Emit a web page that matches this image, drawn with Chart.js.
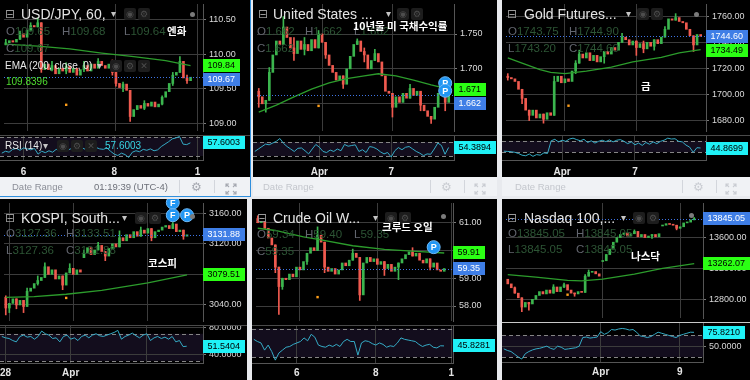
<!DOCTYPE html>
<html><head><meta charset="utf-8"><title>Six charts</title>
<script src="https://cdn.jsdelivr.net/npm/chart.js@4.4.1/dist/chart.umd.min.js"></script>
<style>
html,body{margin:0;padding:0;background:#e8eaee;}
#root{position:relative;width:750px;height:380px;overflow:hidden;background:#e8eaee;}
.panel{position:absolute;background:#000;overflow:hidden;}
.panel canvas{position:absolute;left:0;display:block;}
.t{position:absolute;white-space:nowrap;line-height:1;}
</style></head><body><div id="root"></div>
<script>
// ---------------- DATA ----------------
const SLOTS = 56;

// USD/JPY, 60
const usdjpyClose = [110.17,110.20,110.18,110.22,110.30,110.25,110.35,110.42,110.40,110.46,
 109.78,109.86,109.78,109.84,109.72,109.80,109.76,109.83,109.74,109.80,
 109.70,109.78,109.84,109.76,109.86,109.80,109.90,109.84,109.80,109.86,
 109.74,109.58,109.52,109.57,109.48,109.10,109.20,109.26,109.22,109.29,
 109.25,109.31,109.24,109.28,109.38,109.46,109.58,109.70,109.74,109.90,
 109.66,109.62,109.67,null,null,null];
const usdjpyOpenAt = [[0,110.14]];
const usdjpyWicks = [[0,110.14,110.22],[4,null,110.34],[7,110.36,110.46],[9,null,110.53],[10,109.74,null],[13,109.76,109.9],[17,109.72,109.88],[22,109.75,109.9],[26,109.82,109.94],[30,109.7,109.92],[31,109.54,null],[33,109.46,109.6],[35,109.03,null],[39,109.2,109.33],[44,109.27,109.4],[47,109.55,109.74],[49,null,109.97],[51,109.58,109.7]];
const usdjpyEma = [[0,110.15],[9,110.12],[18,110.08],[27,110.02],[36,109.97],[45,109.91],[52,109.8396]];
const usdjpyRsi = [36,40,38,44,46,42,47,45,43,46,34,40,37,41,38,44,40,46,42,45,41,46,48,44,49,46,48,45,44,47,40,34,31,36,33,27,38,41,39,44,42,45,41,43,50,55,60,66,68,71,55,54,57.6003];
const usdjpyTime = [[6,'6'],[31,'8'],[54,'1']];
const usdjpyTicks = [110.5,110.0,109.5,109.0];
const usdjpyDot = [[17,109.27]];

// United States 10Y
const us10yClose = [1.660,1.650,1.655,1.695,1.720,1.740,1.735,1.760,1.745,1.730,
 1.722,1.740,1.728,1.735,1.726,1.742,1.730,1.750,1.738,1.720,
 1.705,1.695,1.684,1.690,1.678,1.700,1.718,1.735,1.740,1.725,
 1.720,1.700,1.712,1.722,1.710,1.690,1.668,1.665,1.645,1.660,
 1.652,1.665,1.658,1.672,1.662,1.668,1.648,1.640,1.632,1.628,
 1.645,1.665,1.675,1.652,1.662,null];
const us10yOpenAt = [[0,1.668]];
const us10yWicks = [[0,1.645,1.672],[2,1.638,null],[3,null,1.702],[7,null,1.775],[10,1.712,1.745],[13,1.72,1.745],[17,null,1.755],[19,1.715,null],[24,1.672,null],[28,null,1.743],[30,1.71,1.73],[33,null,1.728],[38,1.631,null],[43,null,1.678],[46,1.64,1.666],[49,1.622,null],[52,null,1.684],[53,1.64,null]];
const us10yEma = [[0,1.638],[5,1.648],[10,1.660],[15,1.671],[20,1.680],[25,1.686],[30,1.690],[34,1.693],[39,1.690],[44,1.684],[49,1.677],[54,1.671]];
const us10yRsi = [43,50,57,64,62,67,72,80,66,57,50,43,52,53,45,36,50,63,55,43,40,47,43,50,45,63,58,60,62,43,48,40,57,55,50,42,36,40,27,45,54,48,55,57,50,43,38,31,36,35,50,67,60,35,54.3894];
const us10yTime = [[18,'Apr'],[38,'7']];
const us10yTicks = [1.75,1.70,1.65];
const us10yDot = [[17,1.647]];

// Gold Futures
const goldClose = [1713,1712,1710,1704,1697,1688,1684,1688,1682,1685,
 1681,1686,1684,1710,1714,1709,1712,1710,1718,1724,
 1731,1728,1732,1726,1730,1725,1729,1733,1731,1736,
 1734,1740,1744,1742,1738,1741,1736,1739,1735,1740,
 1737,1742,1739,1744,1750,1758,1757,1759,1756,1755,
 1750,1745,1738,1746,1744.60,null];
const goldOpenAt = [[0,1714]];
const goldWicks = [[0,1711,1716],[4,1693,null],[6,1680,null],[10,1678,null],[13,null,1714],[19,1716,1726],[20,null,1734],[27,1724,null],[32,null,1747],[36,1730,null],[38,1732,1741],[41,1734,null],[44,null,1752],[47,null,1762],[52,1733,null]];
const goldEma = [[0,1728],[4,1724],[9,1719],[12,1717],[16,1716],[22,1718],[29,1721],[35,1725],[43,1728.5],[48,1732],[54,1734.49]];
const goldRsi = [34,33,32,30,26,20,18,24,16,22,20,28,26,70,75,66,72,68,76,79,74,70,75,64,70,62,68,72,67,73,66,72,74,68,60,66,56,62,54,64,58,66,60,68,72,79,76,77,68,66,55,48,30,46,44.8699];
const goldTime = [[16,'Apr'],[36,'7']];
const goldTicks = [1760,1740,1720,1700,1680];
const goldDot = [[17,1691.4]];

// KOSPI
const kospiClose = [3036,3042,3048,3040,3046,3038,3058,3062,3068,3072,
 3076,3090,3080,3086,3074,3078,3066,3082,3088,3080,
 3086,3083,3108,3115,3106,3112,3118,3110,3104,3114,
 3120,3116,3128,3124,3132,3128,3136,3130,3138,3134,
 3140,3128,3136,3138,3142,3144,3140,3146,3136,3138,
 3130,3131.88,null,null,null,null];
const kospiOpenAt = [[0,3050],[22,3102]];
const kospiWicks = [[0,3027,3052],[1,3030,null],[3,3035,null],[5,3030,null],[6,null,3062],[9,3066,3078],[11,null,3095],[16,3060,null],[18,null,3094],[22,null,3112],[26,null,3122],[28,3098,null],[32,null,3137],[38,null,3142],[41,3124,null],[47,null,3148],[50,3126,null]];
const kospiEma = [[0,3050],[8,3051],[17,3054],[27,3059],[40,3069],[51,3079.51]];
const kospiRsi = [66,64,63,60,58,66,68,65,66,62,66,74,70,68,63,64,58,66,68,62,64,60,66,68,64,68,70,67,66,68,70,72,75,62,66,68,71,67,64,68,70,60,64,66,63,65,62,66,58,60,51,51.5404];
const kospiTime = [[1,'28'],[19,'Apr'],[40,' ']];
const kospiTicks = [3160,3120,3080,3040];
const kospiRsiTicks = [80,40];
const kospiDot = [[17,3049.2]];

// Crude Oil WTI
const crudeClose = [61.00,61.05,60.80,60.45,60.20,59.40,58.70,59.00,58.95,59.15,
 59.05,59.40,59.30,59.60,59.90,60.10,60.00,60.55,60.30,59.40,
 59.25,59.35,59.15,59.30,59.55,59.45,59.65,59.90,59.75,58.40,
 59.55,59.75,59.60,59.70,59.50,59.60,59.35,59.50,59.25,59.40,
 59.55,59.70,59.85,59.95,59.80,59.90,59.65,59.55,59.70,59.40,
 59.55,59.30,59.25,59.35,null,null];
const crudeOpenAt = [[0,61.15]];
const crudeWicks = [[0,null,61.25],[2,null,61.0],[5,59.2,null],[6,57.7,null],[7,58.6,null],[14,59.5,null],[17,null,60.85],[19,59.2,null],[27,null,60.05],[29,58.2,null],[36,59.1,null],[40,58.95,null],[44,null,60.1],[49,59.3,null]];
const crudeEma = [[0,60.8],[5,60.72],[13,60.49],[18,60.38],[27,60.17],[36,60.04],[45,59.97],[53,59.91]];
const crudeRsi = [55,52,50,40,47,38,26,36,40,44,45,48,50,52,57,53,62,58,47,45,44,47,45,48,45,52,55,52,52,33,50,53,52,49,47,50,48,44,46,45,50,57,55,54,53,52,48,45,47,48,44,43,46,45.8281];
const crudeTime = [[12,'6'],[34,'8'],[55,'1']];
const crudeTicks = [61,60,59,58];
const crudeDot = [[17,58.32]];

// Nasdaq 100
const nasdaqClose = [13000,12950,12880,12820,12700,12760,12740,12800,12850,12900,
 12870,12920,12880,12960,12900,12960,12990,12920,12880,12870,
 12900,12890,13100,13150,13160,13130,13100,13300,13380,13450,
 13540,13600,13640,13660,13620,13650,13680,13610,13640,13600,
 13620,13640,13610,13650,13760,13780,13770,13760,13720,13740,
 13790,13800,13830,13845.05,null,null];
const nasdaqOpenAt = [[0,13060],[27,13290],[44,13750]];
const nasdaqWicks = [[2,null,12960],[4,12640,null],[6,12660,null],[13,null,12990],[16,12950,13010],[19,12840,null],[22,null,13120],[23,null,13180],[28,13300,null],[36,null,13700],[41,13590,null],[48,13700,null],[53,null,13860]];
const nasdaqEma = [[0,13119],[8,13087],[17,13046],[21,13038],[27,13062],[36,13127],[44,13200],[53,13262.07]];
const nasdaqRsi = [45,42,40,35,30,26,36,40,43,45,46,48,50,46,44,50,48,44,45,46,47,50,66,67,65,66,67,77,72,75,81,80,82,83,82,80,81,76,69,68,66,68,72,76,74,72,70,68,66,70,72,74,76,75.821];
const nasdaqTime = [[27,'Apr'],[49,'9']];
const nasdaqTicks = [13600,13200,12800];
const nasdaqRsiTicks = [50];
const nasdaqDot = [[17,12860]];

// ---------------- STYLE ----------------
const FONT = '"Liberation Sans", Arial, sans-serif';
const KFONT = '"Noto Sans CJK KR", sans-serif';
const SYM = '"DejaVu Sans", sans-serif';
const UP = '#3bb54e', DOWN = '#ef5a4f', EMA_C = '#2c9c2c', RSI_C = '#35abc6', GRID = '#3c3c3c';

const panels = [
 { x:0, y:0, w:250, h:196, mainH:135, rsiH:25, timeH:17, timePad:6, axisW:47,
   close:usdjpyClose, openAt:usdjpyOpenAt, wicks:usdjpyWicks, ema:usdjpyEma, rsi:usdjpyRsi, time:usdjpyTime,
   yMin:108.89, yMax:110.732, yTicks:usdjpyTicks, dec:2, rsiMin:21.6, rsiMax:74.2, rsiTicks:[], dot:usdjpyDot, markers:[],
   divider:'#4a4a4a', title:'USD/JPY, 60,', titleX:21, titleY:14, caretX:111, iconX:[124,138], grayDot:[192,14],
   ohlc:[['O','109.65',6,32],['H','109.68',62,32],['L','109.64',124,32],['C','109.67',6,49]],
   kor:['엔화',167,32],
   dateBar:{label:'Date Range', lx:12, color:'#8c8f98', time:'01:19:39 (UTC-4)', seps:[179,214], gear:197, exp:231, icon:'#a5a8b0'},
   legends:true },
 { x:253, y:0, w:244, h:196, mainH:135, rsiH:25, timeH:17, timePad:6, axisW:43,
   close:us10yClose, openAt:us10yOpenAt, wicks:us10yWicks, ema:us10yEma, rsi:us10yRsi, time:us10yTime,
   yMin:1.611, yMax:1.793, yTicks:us10yTicks, dec:3, rsiMin:18.6, rsiMax:90, rsiTicks:[], dot:us10yDot,
   markers:[[53,1.6795,'P'],[53,1.6687,'P']],
   divider:'#4a4a4a', title:'United States ...', titleX:20, titleY:14, caretX:133, iconX:[144,158], grayDot:null,
   ohlc:[['O','1.662',4,32],['H','1.662',52,32],['L','1.662',101,32],['C','1.662',4,49]],
   kor:['10년물 미 국채수익률',100,27],
   dateBar:{label:'Date Range', lx:10, color:'#c4c7cd', time:'', seps:[177,211], gear:194, exp:227, icon:'#c9ccd2'} },
 { x:502, y:0, w:248, h:196, mainH:135, rsiH:25, timeH:17, timePad:6, axisW:44,
   close:goldClose, openAt:goldOpenAt, wicks:goldWicks, ema:goldEma, rsi:goldRsi, time:goldTime,
   yMin:1672, yMax:1769.4, yTicks:goldTicks, dec:2, rsiMin:3.3, rsiMax:90, rsiTicks:[], dot:goldDot, markers:[],
   divider:'#4a4a4a', title:'Gold Futures...', titleX:22, titleY:14, caretX:124, iconX:[135,149], grayDot:[194,14],
   ohlc:[['O','1743.75',6,32],['H','1744.90',67,32],['L','1743.20',6,49],['C','1744.60',67,49]],
   kor:['금',139,87],
   dateBar:{label:'Date Range', lx:13, color:'#c4c7cd', time:'', seps:[180,214], gear:197, exp:229, icon:'#c9ccd2'} },
 { x:0, y:199, w:247, h:181, mainH:126, rsiH:38, timeH:17, timePad:4, axisW:44,
   close:kospiClose, openAt:kospiOpenAt, wicks:kospiWicks, ema:kospiEma, rsi:kospiRsi, time:kospiTime,
   yMin:3019, yMax:3173.5, yTicks:kospiTicks, dec:2, rsiMin:26.7, rsiMax:83, rsiTicks:kospiRsiTicks, dot:kospiDot,
   markers:[[47,3174,'F'],[47,3157.5,'F'],[51,3157.5,'P']],
   divider:'#4a4a4a', title:'KOSPI, South...', titleX:21, titleY:19, caretX:122, iconX:[135,149], grayDot:[192,17],
   ohlc:[['O','3127.36',6,35],['H','3133.51',66,35],['L','3127.36',6,52],['C','3131.88',66,52]],
   kor:['코스피',148,65], dateBar:null },
 { x:252, y:199, w:245, h:181, mainH:126, rsiH:38, timeH:17, timePad:4, axisW:44,
   close:crudeClose, openAt:crudeOpenAt, wicks:crudeWicks, ema:crudeEma, rsi:crudeRsi, time:crudeTime,
   yMin:57.46, yMax:61.71, yTicks:crudeTicks, dec:2, rsiMin:22, rsiMax:75, rsiTicks:[], dot:crudeDot,
   markers:[[50,60.12,'P']],
   divider:'#4a4a4a', title:'Crude Oil W...', titleX:21, titleY:19, caretX:121, iconX:[133,147], grayDot:[191,17],
   ohlc:[['O','59.34',5,36],['H','59.40',53,36],['L','59.35',102,36],['C','59.35',5,53]],
   kor:['크루드 오일',130,29], dateBar:null },
 { x:502, y:199, w:248, h:181, mainH:123, rsiH:40, timeH:18, timePad:4, axisW:47,
   close:nasdaqClose, openAt:nasdaqOpenAt, wicks:nasdaqWicks, ema:nasdaqEma, rsi:nasdaqRsi, time:nasdaqTime,
   yMin:12558, yMax:14048, yTicks:nasdaqTicks, dec:2, rsiMin:20.5, rsiMax:95, rsiTicks:nasdaqRsiTicks, dot:nasdaqDot, markers:[],
   divider:'#c8c8c8', title:'Nasdaq 100,...', titleX:22, titleY:19, caretX:119, iconX:[131,145], grayDot:[189,16],
   ohlc:[['O','13845.05',6,35],['H','13845.05',74,35],['L','13845.05',6,51],['C','13845.05',74,51]],
   kor:['나스닥',129,58], dateBar:null }
];

// ---------------- HELPERS ----------------
function sparse(pairs){ const a = new Array(SLOTS).fill(null); pairs.forEach(([i,v]) => a[i] = v); return a; }
function labelsFrom(pairs){ const a = new Array(SLOTS).fill(''); pairs.forEach(([i,t]) => a[i] = t); return a; }
function lastVal(arr){ for (let i = arr.length-1; i >= 0; i--) if (arr[i] != null) return arr[i]; return null; }
function candles(close, openAt, wicks){
  const open = close.map((c,i) => c == null ? null : (i > 0 && close[i-1] != null ? close[i-1] : c));
  openAt.forEach(([i,o]) => open[i] = o);
  const body = close.map((c,i) => c == null ? null : [open[i], c]);
  const col = close.map((c,i) => (c != null && c < open[i]) ? DOWN : UP);
  const wick = new Array(SLOTS).fill(null);
  wicks.forEach(([i,lo,hi]) => {
    const a = Math.min(open[i], close[i]), b = Math.max(open[i], close[i]);
    wick[i] = [lo == null ? a : lo, hi == null ? b : hi];
  });
  return {body, col, wick};
}
function drawBoxes(ctx, x0, items, h){
  items.sort((a,b) => a.y - b.y);
  for (let k = 1; k < items.length; k++) if (items[k].y - items[k-1].y < h + 1) items[k].y = items[k-1].y + h + 1;
  ctx.save();
  ctx.font = '9px ' + FONT; ctx.textBaseline = 'middle'; ctx.textAlign = 'left';
  items.forEach(it => {
    const w = Math.ceil(ctx.measureText(it.text).width) + 9;
    const top = Math.round(it.y - h/2);
    ctx.fillStyle = it.bg; ctx.fillRect(x0, top, w, h);
    ctx.fillStyle = it.fg; ctx.fillText(it.text, x0 + 4.5, top + h/2 + 0.5);
  });
  ctx.restore();
}
function addText(el, s, x, cy, size, color, o = {}){
  const sp = document.createElement('span'); sp.className = 't'; sp.textContent = s;
  const k = o.k || 0.49;
  sp.style.left = x + 'px'; sp.style.top = (cy - k*size).toFixed(1) + 'px';
  sp.style.fontSize = size + 'px'; sp.style.color = color;
  sp.style.fontFamily = o.family || FONT; sp.style.fontWeight = o.weight || 'normal';
  el.appendChild(sp); return sp;
}
function addIcon(el, x, cy, glyph){
  const d = document.createElement('div');
  d.style.cssText = 'position:absolute;width:12px;height:12px;background:#1d1d1d;border-radius:2px;color:#4d4d4d;font-size:9px;line-height:12px;text-align:center;';
  d.style.left = x + 'px'; d.style.top = (cy - 6) + 'px'; d.style.fontFamily = SYM;
  d.textContent = glyph; el.appendChild(d);
}
function addDateBar(el, p, top){
  const b = p.dateBar;
  const bar = document.createElement('div');
  bar.style.cssText = 'position:absolute;left:0;height:19px;background:#f0f2f5;';
  bar.style.top = top + 'px'; bar.style.width = p.w + 'px';
  el.appendChild(bar);
  addText(bar, b.label, b.lx, 9.5, 9.5, b.color);
  if (b.time) addText(bar, b.time, 94, 9.5, 9.5, '#6d7079');
  b.seps.forEach(sx => { const s = document.createElement('div'); s.style.cssText = 'position:absolute;top:3px;width:1px;height:13px;background:#d3d6dc;'; s.style.left = sx + 'px'; bar.appendChild(s); });
  addText(bar, '⚙', b.gear - 6, 9.5, 12, b.icon, {family:SYM, k:0.5});
  const ex = document.createElement('div');
  ex.style.cssText = 'position:absolute;top:3.5px;width:12px;height:12px;';
  ex.style.left = (b.exp - 6) + 'px';
  ex.innerHTML = '<svg width="12" height="12" viewBox="0 0 12 12" fill="none" stroke="' + b.icon + '" stroke-width="1.1"><path d="M1 4V1h3M8 1h3v3M11 8v3H8M4 11H1V8M1 1l3 3M11 1L8 4M11 11L8 8M1 11l3-3"/></svg>';
  bar.appendChild(ex);
}

// ---------------- BUILD ----------------
function buildPanel(p){
  const root = document.getElementById('root');
  const el = document.createElement('div'); el.className = 'panel';
  el.style.left = p.x + 'px'; el.style.top = p.y + 'px'; el.style.width = p.w + 'px'; el.style.height = p.h + 'px';
  root.appendChild(el);

  const labels = labelsFrom(p.time);
  const cd = candles(p.close, p.openAt, p.wicks);
  const emaData = sparse(p.ema);
  const dotData = sparse(p.dot);
  const lastClose = lastVal(p.close);
  const lastEma = lastVal(emaData);
  const lastRsi = lastVal(p.rsi);
  const gridX = c => (c.tick && labels[c.tick.value]) ? GRID : 'rgba(0,0,0,0)';

  const c1 = document.createElement('canvas'); c1.width = p.w; c1.height = p.mainH;
  c1.style.top = '0px'; el.appendChild(c1);
  const c2 = document.createElement('canvas'); c2.width = p.w; c2.height = p.rsiH + p.timeH;
  c2.style.top = p.mainH + 'px'; el.appendChild(c2);

  const common = { animation:false, responsive:false, maintainAspectRatio:false, events:[],
    layout:{padding:0}, plugins:{legend:{display:false}, tooltip:{enabled:false}} };

  const mainPlugin = { id:'mainDecor', afterDraw(chart){
    const {ctx, chartArea:a, scales:{x, y}} = chart;
    const py = Math.round(y.getPixelForValue(lastClose)) + 0.5;
    ctx.save();
    ctx.strokeStyle = '#3f74e4'; ctx.lineWidth = 1; ctx.setLineDash([1,2]);
    ctx.beginPath(); ctx.moveTo(a.left, py); ctx.lineTo(a.right, py); ctx.stroke();
    ctx.setLineDash([]);
    p.markers.forEach(([i, v, t]) => {
      const cx = x.getPixelForValue(i), cy = y.getPixelForValue(v);
      ctx.beginPath(); ctx.arc(cx, cy, 6.5, 0, Math.PI*2);
      ctx.fillStyle = '#2196f3'; ctx.fill();
      ctx.strokeStyle = '#6fb8f5'; ctx.lineWidth = 1; ctx.stroke();
      ctx.fillStyle = '#fff'; ctx.font = 'bold 9px ' + FONT; ctx.textAlign = 'center'; ctx.textBaseline = 'middle';
      ctx.fillText(t, cx, cy + 0.5);
    });
    ctx.restore();
    drawBoxes(ctx, Math.round(a.right), [
      {y: y.getPixelForValue(lastEma), text: lastEma.toFixed(p.dec), bg:'#2bff14', fg:'#000'},
      {y: y.getPixelForValue(lastClose), text: lastClose.toFixed(p.dec), bg:'#3f7ee6', fg:'#fff'}
    ], 13);
  }};

  new Chart(c1, {
    type:'bar',
    data:{ labels, datasets:[
      {type:'line', data:emaData, borderColor:EMA_C, borderWidth:1.3, pointRadius:0, spanGaps:true, order:0},
      {type:'line', data:dotData, showLine:false, pointRadius:1.7, pointStyle:'rect', pointBackgroundColor:'#ff9f1a', pointBorderWidth:0, order:0},
      {data:cd.body, backgroundColor:cd.col, barThickness:2, minBarLength:1, grouped:false, order:1},
      {data:cd.wick, backgroundColor:cd.col, barThickness:1, grouped:false, order:2}
    ]},
    options:{ ...common,
      scales:{
        x:{ offset:true, grid:{offset:false, color:gridX, drawTicks:false}, ticks:{display:false}, border:{display:false},
            afterFit:s => { s.height = 0; s.paddingLeft = 0; s.paddingRight = 0; } },
        y:{ position:'right', min:p.yMin, max:p.yMax,
            afterBuildTicks:s => { s.ticks = p.yTicks.map(v => ({value:v})); },
            ticks:{ color:'#dadada', font:{size:9, family:FONT}, padding:3, callback:v => Number(v).toFixed(p.dec) },
            grid:{ color:GRID, tickColor:'#7a7a7a', tickLength:3 }, border:{color:'#555'},
            afterFit:s => { s.width = p.axisW; s.paddingTop = 0; s.paddingBottom = 0; } }
      }
    },
    plugins:[mainPlugin]
  });

  const rsiPlugin = { id:'rsiDecor',
    beforeDraw(chart){
      const {ctx, chartArea:a, scales:{y}} = chart;
      const y70 = y.getPixelForValue(70), y30 = y.getPixelForValue(30);
      ctx.save(); ctx.fillStyle = 'rgba(126,87,194,0.15)';
      ctx.fillRect(a.left, y70, a.right - a.left, y30 - y70); ctx.restore();
    },
    beforeDatasetsDraw(chart){
      const {ctx, chartArea:a, scales:{y}} = chart;
      ctx.save(); ctx.strokeStyle = '#858585'; ctx.lineWidth = 1; ctx.setLineDash([4,3]);
      [70,30].forEach(v => { const yy = Math.round(y.getPixelForValue(v)) + 0.5;
        ctx.beginPath(); ctx.moveTo(a.left, yy); ctx.lineTo(a.right, yy); ctx.stroke(); });
      ctx.restore();
    },
    afterDraw(chart){
      const {ctx, chartArea:a, scales:{y}} = chart;
      ctx.save(); ctx.strokeStyle = p.divider; ctx.lineWidth = 1;
      ctx.beginPath(); ctx.moveTo(0, 0.5); ctx.lineTo(chart.width, 0.5); ctx.stroke(); ctx.restore();
      drawBoxes(ctx, Math.round(a.right), [{y: y.getPixelForValue(lastRsi), text: lastRsi.toFixed(4), bg:'#1ff1f6', fg:'#000'}], 13);
    }
  };

  const hasRT = p.rsiTicks.length > 0;
  new Chart(c2, {
    type:'line',
    data:{ labels, datasets:[{data:p.rsi, borderColor:RSI_C, borderWidth:1, pointRadius:0}] },
    options:{ ...common,
      scales:{
        x:{ offset:true, grid:{offset:false, color:gridX, drawTicks:false},
            ticks:{ autoSkip:false, maxRotation:0, color:'#e4e4e4', padding:p.timePad, font:{size:10, weight:'bold', family:FONT},
                    callback:(v, i) => labels[i] ? labels[i] : null },
            border:{color:'#555'},
            afterFit:s => { s.height = p.timeH; s.paddingLeft = 0; s.paddingRight = 0; } },
        y:{ position:'right', min:p.rsiMin, max:p.rsiMax,
            afterBuildTicks: hasRT ? (s => { s.ticks = p.rsiTicks.map(v => ({value:v})); }) : undefined,
            ticks:{ display:hasRT, color:'#d6d6d6', font:{size:9, family:FONT}, padding:3, callback:v => Number(v).toFixed(4) },
            grid:{ display:hasRT, color:GRID, tickColor:'#7a7a7a', tickLength:3 }, border:{color:'#555'},
            afterFit:s => { s.width = p.axisW; s.paddingTop = 0; s.paddingBottom = 0; } }
      }
    },
    plugins:[rsiPlugin]
  });

  // ---- text overlays ----
  addText(el, '⊟', 5, p.titleY, 12, '#9a9a9a', {family:SYM});
  addText(el, p.title, p.titleX, p.titleY, 14, '#e4e4e4');
  addText(el, '▾', p.caretX, p.titleY, 10, '#c4c4c4', {family:SYM});
  addIcon(el, p.iconX[0], p.titleY, '◉');
  addIcon(el, p.iconX[1], p.titleY, '⚙');
  if (p.grayDot){ const d = document.createElement('div'); d.style.cssText = 'position:absolute;width:5px;height:5px;border-radius:50%;background:#7b7b7b;';
    d.style.left = (p.grayDot[0]-2.5) + 'px'; d.style.top = (p.grayDot[1]-2.5) + 'px'; el.appendChild(d); }
  p.ohlc.forEach(([l, v, x, cy]) => {
    const s = addText(el, l, x, cy, 11.5, '#63666f');
    const vs = document.createElement('span'); vs.textContent = v; vs.style.color = '#2d5535'; s.appendChild(vs);
  });
  addText(el, p.kor[0], p.kor[1], p.kor[2], 10.5, '#ffffff', {family:KFONT, weight:'bold', k:0.56});
  if (p.legends){
    addText(el, 'EMA (200, close, 0)', 5, 66, 10, '#e8e8e8');
    addText(el, '▾', 97, 66, 10, '#c4c4c4', {family:SYM});
    addIcon(el, 110, 66, '◉'); addIcon(el, 124, 66, '⚙'); addIcon(el, 138, 66, '✕');
    addText(el, lastEma.toFixed(4), 6, 82, 10, '#4fdc2f');
    const ry = p.mainH + 11;
    addText(el, 'RSI (14)', 5, ry, 10, '#e8e8e8');
    addText(el, '▾', 43, ry, 10, '#c4c4c4', {family:SYM});
    addIcon(el, 57, ry, '◉'); addIcon(el, 71, ry, '⚙'); addIcon(el, 85, ry, '✕');
    addText(el, lastRsi.toFixed(4), 105, ry, 10, '#38d5e3');
  }
  if (p.dateBar) addDateBar(el, p, p.mainH + p.rsiH + p.timeH);
}

panels.forEach(buildPanel);

// active-panel border (USD/JPY)
(function(){
  const root = document.getElementById('root');
  const r = document.createElement('div'); r.style.cssText = 'position:absolute;left:250px;top:0;width:1px;height:197px;background:#2f8fdd;'; root.appendChild(r);
  const b = document.createElement('div'); b.style.cssText = 'position:absolute;left:0;top:196px;width:251px;height:1px;background:#2f8fdd;'; root.appendChild(b);
})();
</script></body></html>
